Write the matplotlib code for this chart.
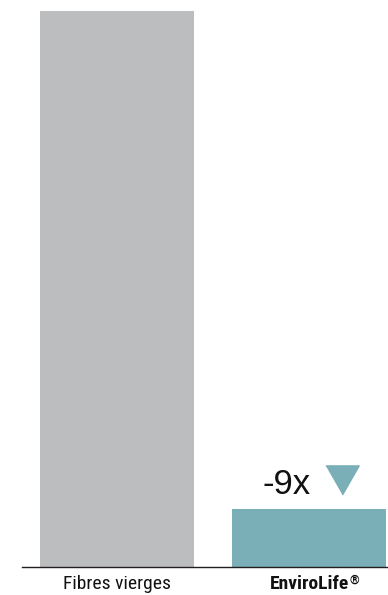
import matplotlib
matplotlib.use('Agg')
import matplotlib.pyplot as plt

# data
categories = ['Fibres vierges', 'EnviroLife']
values = [100, 10.4]
colors = ['#bcbdbf', '#7aafb8']
ratio_label = '-9x'

fig = plt.figure(figsize=(3.88, 5.95), dpi=100)
ax = fig.add_axes([22/388, 28/595, 366/388, 556/595])

x = [0, 1]
ax.bar(x, values, width=0.802, color=colors)
ax.set_xlim(-0.495, 1.41)
ax.set_ylim(0, values[0])

for s in ['top', 'right', 'left']:
    ax.spines[s].set_visible(False)
ax.spines['bottom'].set_linewidth(1.0)
ax.spines['bottom'].set_color('#231f20')
ax.set_yticks([])
ax.set_xticks(x)
ax.tick_params(axis='x', length=0, pad=6)
ax.set_xticklabels(categories, fontsize=14, family=['Roboto Condensed', 'DejaVu Sans'],
                   color='#111111')
lab = ax.get_xticklabels()[1]
lab.set_fontweight('bold')
# small registered mark after the brand name
ax.annotate('®', xy=(1, 1), xycoords=lab, xytext=(0.5, 1.5), textcoords='offset points',
            ha='left', va='top', fontsize=9, fontweight='bold',
            family=['Roboto Condensed', 'DejaVu Sans'], color='#111111')

# ratio annotation with a down triangle
ax.text(0.88, values[1] + 2.8, ratio_label, fontsize=25, ha='center', va='baseline',
        family=['Liberation Sans', 'DejaVu Sans'], color='#111111')
tri = [(-16, 14), (16, 14), (0, -14)]
ax.plot([1.17], [values[1] + 5.3], marker=tri, markersize=24, color=colors[1],
        linestyle='none', clip_on=False)

plt.savefig('out.png', dpi=100)
